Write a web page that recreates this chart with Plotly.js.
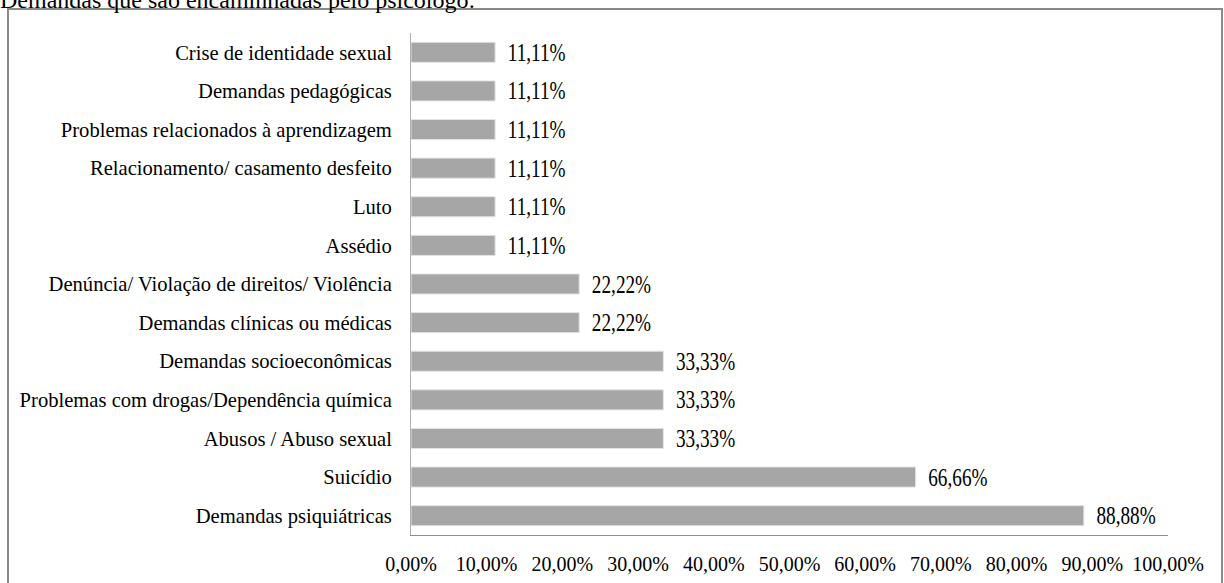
<!DOCTYPE html>
<html>
<head>
<meta charset="utf-8">
<script src="https://cdn.plot.ly/plotly-3.0.1.min.js"></script>
<style>
  html, body { margin: 0; padding: 0; background: #ffffff; }
  #chart { width: 1224px; height: 583px; }
</style>
</head>
<body>
<div id="chart"></div>
<script>
// Categories listed bottom to top
const categories = [
  "Demandas psiquiátricas",
  "Suicídio",
  "Abusos / Abuso sexual",
  "Problemas com drogas/Dependência química",
  "Demandas socioeconômicas",
  "Demandas clínicas ou médicas",
  "Denúncia/ Violação de direitos/ Violência",
  "Assédio",
  "Luto",
  "Relacionamento/ casamento desfeito",
  "Problemas relacionados à aprendizagem",
  "Demandas pedagógicas",
  "Crise de identidade sexual"
];

const percentages = [88.88, 66.66, 33.33, 33.33, 33.33, 22.22, 22.22, 11.11, 11.11, 11.11, 11.11, 11.11, 11.11];

const xTickValues = [0, 10, 20, 30, 40, 50, 60, 70, 80, 90, 100];
const xTickLabels = ["0,00%", "10,00%", "20,00%", "30,00%", "40,00%", "50,00%", "60,00%", "70,00%", "80,00%", "90,00%", "100,00%"];

const fmt = v => v.toFixed(2).replace('.', ',') + '%';
const barLabels = percentages.map(v => '\u00a0\u00a0' + fmt(v));

const W = 1224, H = 583;
const margin = { l: 411, r: 56, t: 33, b: 48 };
const plotW = W - margin.l - margin.r;
const plotH = H - margin.t - margin.b;
const px = x => (x - margin.l) / plotW;
const py = y => (H - margin.b - y) / plotH;

const font = 'Liberation Serif';
// value labels are drawn tall and narrow
const labelSize = 26;
const labelStretchX = 0.74;

const trace = {
  type: 'bar',
  orientation: 'h',
  x: percentages,
  y: categories,
  text: barLabels,
  textposition: 'outside',
  constraintext: 'none',
  cliponaxis: false,
  textfont: { family: font, size: labelSize, color: '#000000' },
  marker: { color: '#a6a6a6', line: { color: '#e3e3e3', width: 1 } },
  hoverinfo: 'none'
};

const layout = {
  width: W,
  height: H,
  margin: margin,
  paper_bgcolor: '#ffffff',
  plot_bgcolor: '#ffffff',
  showlegend: false,
  bargap: 0.48,
  font: { family: font, size: 20, color: '#000000' },
  title: {
    text: 'Demandas que são encaminhadas pelo psicólogo:',
    font: { family: font, size: 24, color: '#000000' },
    xref: 'container', yref: 'container',
    x: 0, xanchor: 'left',
    y: 1 - 8 / H, yanchor: 'bottom',
    pad: { t: 0, b: 0, l: 0, r: 0 }
  },
  xaxis: {
    range: [0, 100],
    tickvals: xTickValues,
    ticktext: xTickLabels,
    showgrid: false,
    zeroline: false,
    showline: true,
    linecolor: '#8c8c8c',
    linewidth: 1,
    ticks: '',
    ticklabelstandoff: 11,
    tickfont: { family: font, size: 20, color: '#000000' },
    fixedrange: true
  },
  yaxis: {
    type: 'category',
    showgrid: false,
    zeroline: false,
    showline: true,
    linecolor: '#b0b0b0',
    linewidth: 1,
    ticks: '',
    ticklabelstandoff: 14,
    tickfont: { family: font, size: 20.6, color: '#000000' },
    fixedrange: true
  },
  shapes: [{
    type: 'rect',
    xref: 'paper', yref: 'paper',
    x0: px(8), x1: px(1222),
    y0: py(590), y1: py(9),
    line: { color: '#8a8a8a', width: 2 },
    fillcolor: 'rgba(0,0,0,0)',
    layer: 'below'
  }]
};

Plotly.newPlot('chart', [trace], layout, { displayModeBar: false, staticPlot: true }).then(gd => {
  // narrow the value labels, keeping their left edge in place
  gd.querySelectorAll('.bartext').forEach(t => {
    const b = t.getBBox();
    const tr = t.getAttribute('transform') || '';
    t.setAttribute('transform',
      tr + ' translate(' + b.x + ',0) scale(' + labelStretchX + ',1) translate(' + (-b.x) + ',0)');
  });
});
</script>
</body>
</html>
